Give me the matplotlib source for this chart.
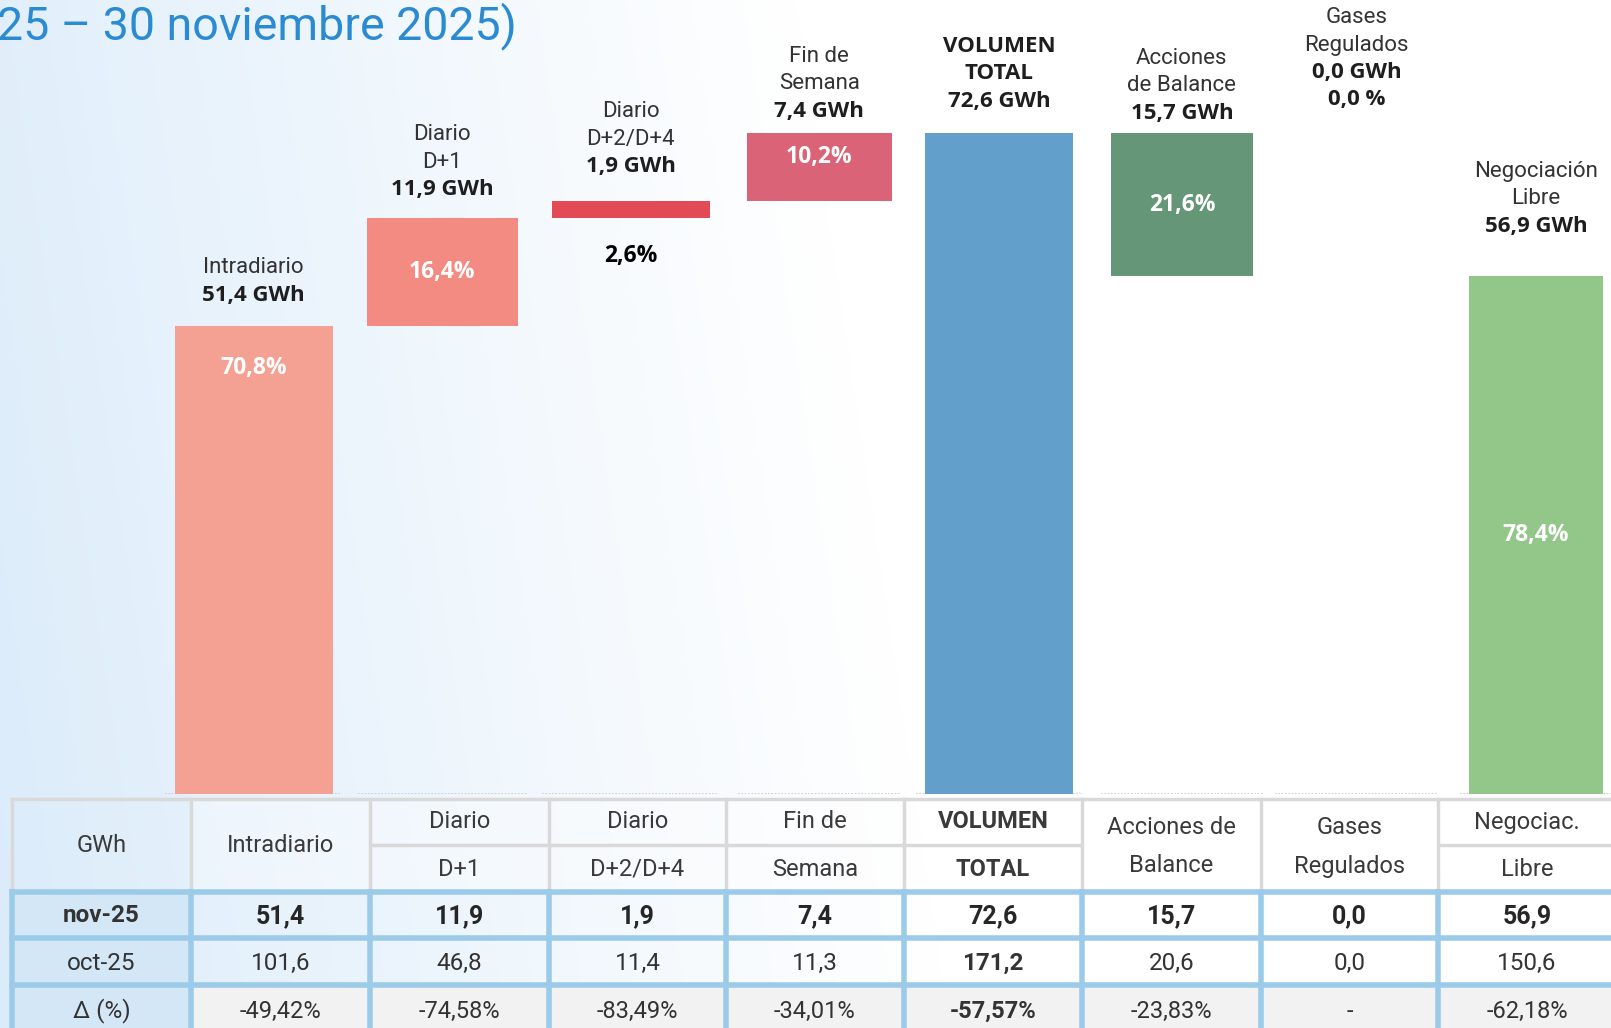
import matplotlib.pyplot as plt
from matplotlib.patches import Rectangle
import numpy as np

plt.rcParams['font.family'] = ['Roboto', 'DejaVu Sans']

# data
names = [['Intradiario'], ['Diario', 'D+1'], ['Diario', 'D+2/D+4'], ['Fin de', 'Semana'],
         ['VOLUMEN', 'TOTAL'], ['Acciones', 'de Balance'], ['Gases', 'Regulados'],
         ['Negociación', 'Libre']]
nov25 = [51.4, 11.9, 1.9, 7.4, 72.6, 15.7, 0.0, 56.9]
oct25 = [101.6, 46.8, 11.4, 11.3, 171.2, 20.6, 0.0, 150.6]
delta = ['-49,42%', '-74,58%', '-83,49%', '-34,01%', '-57,57%', '-23,83%', '-', '-62,18%']
shares = [70.8, 16.4, 2.6, 10.2, None, 21.6, 0.0, 78.4]
title = '25 – 30 noviembre 2025)'

table_head = [['GWh'], ['Intradiario'], ['Diario', 'D+1'], ['Diario', 'D+2/D+4'],
              ['Fin de', 'Semana'], ['VOLUMEN', 'TOTAL'], ['Acciones de', 'Balance'],
              ['Gases', 'Regulados'], ['Negociac.', 'Libre']]
row_labels = ['nov-25', 'oct-25', 'Δ (%)']

# layout / style
colors = ['#f4a193', '#f38b82', '#e24b55', '#da6378', '#639fcb', '#649677', '#bbbbbb', '#93c78a']
xpos = [0, 1.016, 2.031, 3.047, 4.015, 5.0, 5.94, 6.906]
widths = [0.852, 0.813, 0.852, 0.78, 0.80, 0.77, 0.78, 0.72]
gaps = [31, 28, 34, 22, 32, 20, 0, 50]


def fmt(v):
    return f'{v:.1f}'.replace('.', ',')


# waterfall bottoms
bottoms = []
acc = 0
for v in nov25[:4]:
    bottoms.append(acc)
    acc += v
bottoms.append(0)
bal_bottom = nov25[4] - nov25[5]
bottoms.append(bal_bottom)
bottoms.append(bal_bottom - nov25[6])
bottoms.append(0)

W, H = 1611, 1028
fig = plt.figure(figsize=(W / 100, H / 100), dpi=100)

# background gradient
bg = fig.add_axes([0, 0, 1, 1], zorder=-2)
xx, yy = np.meshgrid(np.arange(W), np.arange(H))
t = np.clip((xx + 0.15 * (H - yy)) / 950, 0, 1) ** 0.9
left = np.array([218, 235, 250]) / 255
img = left[None, None, :] * (1 - t[..., None]) + np.array([1, 1, 1])[None, None, :] * t[..., None]
bg.imshow(img, aspect='auto', extent=[0, W, H, 0])
bg.set_xlim(0, W)
bg.set_ylim(H, 0)
bg.axis('off')

# bars
ax = fig.add_axes([0, 234 / H, 1, 1 - 234 / H])
ax.patch.set_alpha(0)
ax.bar(xpos, nov25, bottom=bottoms, width=widths, color=colors, zorder=2)
ax.set_xlim(-1.367, 7.311)
ax.set_ylim(0, 87.25)
ax.axis('off')

for i, xp in enumerate(xpos):
    ax.hlines(0, xp - widths[i] / 2 - 0.05, xp + widths[i] / 2 + 0.05, colors='#c8c8c8',
              linestyles=(0, (1, 1)), lw=1.2, zorder=1)

# labels above bars
for i, xp in enumerate(xpos):
    top = bottoms[i] + nov25[i]
    lines = [(fmt(nov25[i]) + ' GWh', True)]
    if i == 6:
        lines = [(fmt(shares[i]) + ' %', True)] + lines
    bold_names = i == 4
    for n in reversed(names[i]):
        lines.append((n, bold_names))
    gap = gaps[i]
    if i == 6:
        top = 87.25
        gap = -100
    for k, (s, b) in enumerate(lines):
        if b:
            kw = dict(fontsize=16, fontweight='bold', color='#1e1e1e', family='Open Sans')
        else:
            kw = dict(fontsize=16, color='#333333')
        ax.annotate(s, (xp, top), xytext=(0, gap + k * 27.5), textcoords='offset pixels',
                    ha='center', va='center', **kw)

# percentages inside bars
pkw = dict(ha='center', va='center', fontsize=16.5, fontweight='bold', family='Open Sans')
for i, xp in enumerate(xpos):
    s = shares[i]
    if s is None or nov25[i] == 0:
        continue
    top = bottoms[i] + nov25[i]
    lbl = fmt(s) + '%'
    if i == 0:
        ax.annotate(lbl, (xp, top), xytext=(0, -42), textcoords='offset pixels',
                    color='white', **pkw)
    elif i == 2:
        ax.annotate(lbl, (xp, bottoms[i]), xytext=(0, -38), textcoords='offset pixels',
                    color='black', **pkw)
    elif i == 3:
        ax.annotate(lbl, (xp, top), xytext=(0, -24), textcoords='offset pixels',
                    color='white', **pkw)
    else:
        ax.text(xp, bottoms[i] + nov25[i] / 2, lbl, color='white', **pkw)

# title
bg.text(-3, 39, title, ha='left', va='baseline', fontsize=33.5, color='#2b8bd2')

# table (figure pixel coords)
edges = [12, 191, 370, 549, 726, 904, 1082, 1261, 1438, 1625]
cx = [(edges[j] + edges[j + 1]) / 2 for j in range(9)]
cx[-1] = 1527
gray = '#d9d9d9'
blue = '#9ccbea'
hy0, hym, hy1 = 799, 845, 892
rows_y = [892, 938, 985, 1040]

# fills
for r in range(3):
    bg.add_patch(Rectangle((edges[0], rows_y[r]), edges[1] - edges[0], rows_y[r + 1] - rows_y[r],
                           facecolor='#d3e7f6', edgecolor='none', zorder=1))
bg.add_patch(Rectangle((edges[1], rows_y[2]), W - edges[1], rows_y[3] - rows_y[2],
                       facecolor='#f2f2f2', edgecolor='none', zorder=1))
bg.add_patch(Rectangle((edges[1], hy0), W - edges[1], hy1 - hy0,
                       facecolor='white', alpha=0.35, edgecolor='none', zorder=1))

# header borders
bg.plot([edges[0], W], [hy0, hy0], color=gray, lw=2.5, zorder=2)
for j in range(10):
    bg.plot([edges[j], edges[j]], [hy0, hy1], color=gray, lw=2.5, zorder=2)
for j, h in enumerate(table_head):
    if len(h) == 2 and j not in (6, 7):
        bg.plot([edges[j] + 2, edges[j + 1] - 2], [hym, hym], color=gray, lw=2.5, zorder=2)

# header text
for j, h in enumerate(table_head):
    bold = j == 5
    kw = dict(ha='center', va='center', fontsize=17, color='#3a3a3a',
              fontweight='bold' if bold else 'normal', zorder=3)
    if len(h) == 1:
        bg.text(cx[j], 845, h[0], **kw)
    elif j in (6, 7):
        bg.text(cx[j], 827, h[0], **kw)
        bg.text(cx[j], 866, h[1], **kw)
    else:
        bg.text(cx[j], 822, h[0], **kw)
        bg.text(cx[j], 869, h[1], **kw)

# data grid
for yb in rows_y[:3]:
    bg.plot([edges[0], W], [yb, yb], color=blue, lw=4, zorder=2)
for j in range(10):
    bg.plot([edges[j], edges[j]], [rows_y[0], H], color=blue, lw=4, zorder=2)

# data text
row_cy = [916, 963, 1011]
for r, lab in enumerate(row_labels):
    bg.text(cx[0], row_cy[r], lab, ha='center', va='center', fontsize=17.5,
            fontweight='bold' if r == 0 else 'normal', color='#333333', zorder=3)
for j in range(8):
    bg.text(cx[j + 1], row_cy[0], fmt(nov25[j]), ha='center', va='center', fontsize=18,
            fontweight='bold', color='#262626', zorder=3)
    bg.text(cx[j + 1], row_cy[1], fmt(oct25[j]), ha='center', va='center', fontsize=17.5,
            fontweight='bold' if j == 4 else 'normal', color='#333333', zorder=3)
    bg.text(cx[j + 1], row_cy[2], delta[j], ha='center', va='center', fontsize=17,
            fontweight='bold' if j == 4 else 'normal', color='#333333', zorder=3)

fig.savefig('out.png', dpi=100)
